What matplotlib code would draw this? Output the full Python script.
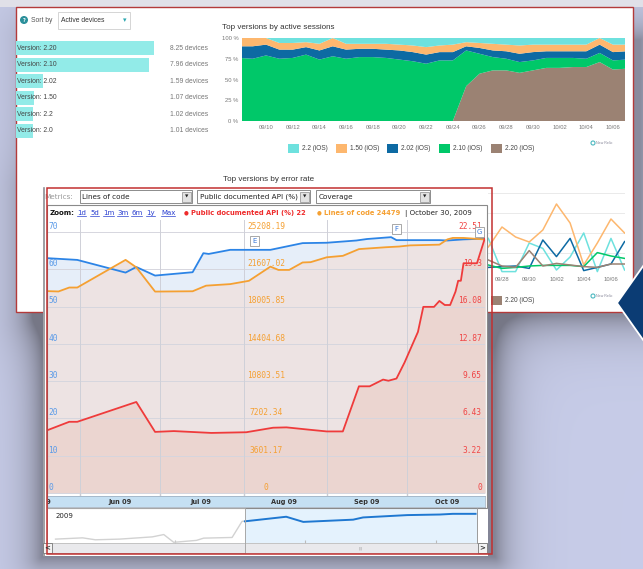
import numpy as np
import matplotlib
matplotlib.use("Agg")
import matplotlib.pyplot as plt
import matplotlib.transforms as mtransforms
from matplotlib.patches import Rectangle, Polygon, Circle

W, H = 643, 569
BACK_FONT = ['Liberation Sans', 'DejaVu Sans']
FRONT_FONT = ['DejaVu Sans']
MONO_FONT = ['DejaVu Sans Mono']

# ======================= DATA =======================
# --- device list (back dashboard) ---
device_labels = ['Version: 2.20', 'Version: 2.10', 'Version: 2.02',
                 'Version: 1.50', 'Version: 2.2', 'Version: 2.0']
device_counts = [8.25, 7.96, 1.59, 1.07, 1.02, 1.01]

# --- top versions by active sessions (% share, stacked) ---
session_dates = ['09/08', '09/09', '09/10', '09/11', '09/12', '09/13', '09/14',
                 '09/15', '09/16', '09/17', '09/18', '09/19', '09/20', '09/21',
                 '09/22', '09/23', '09/24', '09/25', '09/26', '09/27', '09/28',
                 '09/29', '09/30', '10/01', '10/02', '10/03', '10/04', '10/05',
                 '10/06', '10/07']
version_names = ['2.2 (iOS)', '1.50 (iOS)', '2.02 (iOS)', '2.10 (iOS)', '2.20 (iOS)']
version_colors = ['#6ee1de', '#fdb76e', '#0d6aa3', '#00c869', '#9b8273']
share_220 = [0, 0, 0, 0, 0, 0, 0, 0, 0, 0, 0, 0, 0, 0, 0, 0, 0, 42, 57, 61, 61, 58, 61, 64, 64, 65, 65, 71, 62, 63]
share_210 = [76, 75, 79, 75, 76, 80, 74, 78, 75, 77, 77, 76, 74, 72, 69, 73, 73, 43, 24, 16, 14, 13, 12, 12, 12, 11, 10, 11, 11, 11]
share_202 = [14, 15, 13, 11, 10, 9, 11, 12, 11, 10, 10, 10, 11, 11, 11, 10, 10, 5, 7, 8, 9, 10, 10, 8, 8, 8, 9, 10, 10, 10]
share_150 = [10, 10, 8, 8, 8, 6, 8, 10, 7, 6, 6, 7, 7, 8, 9, 8, 9, 5, 6, 8, 8, 10, 9, 8, 8, 8, 8, 8, 9, 8]
share_22 = [0, 0, 0, 6, 6, 5, 7, 0, 7, 7, 7, 7, 8, 9, 11, 9, 8, 5, 6, 7, 8, 9, 8, 8, 8, 8, 8, 0, 8, 8]

# --- top versions by error rate (visible part) ---
error_dates = ['09/27', '09/28', '09/29', '09/30', '10/01', '10/02', '10/03',
               '10/04', '10/05', '10/06', '10/07']
err_22 = [1.73, 0.07, 0.07, 1.5, 1.23, 0.15, 0.8, 2.0, 0.07, 1.73, 0.15]
err_150 = [1.3, 2.3, 1.8, 1.55, 2.15, 3.45, 2.5, 0.4, 1.5, 2.7, 2.0]
err_202 = [0.28, 0.32, 0.35, 0.23, 1.65, 0.82, 1.73, 0.12, 0.28, 0.45, 1.57]
err_210 = [0.4, 0.23, 0.28, 0.35, 0.38, 0.38, 0.38, 0.32, 1.02, 0.85, 0.73]
err_220 = [0.65, 0.35, 0.28, 1.12, 0.35, 0.48, 0.4, 0.32, 0.28, 0.45, 0.45]

# --- front annotated time line ---
metric_names = ['Lines of code', 'Public documented API (%)', 'Coverage']
coverage_dates = ['2009-05-19', '2009-05-31', '2009-06-18', '2009-06-22', '2009-06-29',
                  '2009-07-13', '2009-07-17', '2009-07-19', '2009-07-27', '2009-08-11',
                  '2009-08-23', '2009-09-01', '2009-09-12', '2009-09-16', '2009-09-25',
                  '2009-09-27', '2009-10-07', '2009-10-13', '2009-10-16', '2009-10-22',
                  '2009-10-30']
coverage_vals = [63.0, 62.5, 59.1, 60.6, 58.3, 59.2, 64.3, 64.1, 65.2, 65.2, 67.0,
                 67.1, 67.7, 68.1, 68.6, 67.8, 67.8, 67.8, 67.7, 68.0, 68.2]
loc_dates = ['2009-05-19', '2009-05-24', '2009-05-28', '2009-05-31', '2009-06-18',
             '2009-06-22', '2009-06-29', '2009-07-13', '2009-07-18', '2009-07-27',
             '2009-08-03', '2009-08-11', '2009-08-14', '2009-08-18', '2009-08-23',
             '2009-08-26', '2009-09-01', '2009-09-07', '2009-09-13', '2009-09-23',
             '2009-09-28', '2009-10-02', '2009-10-13', '2009-10-16', '2009-10-18',
             '2009-10-22', '2009-10-30']
loc_vals = [19500, 19460, 19840, 19840, 22510, 21790, 19450, 19480, 20020, 20170,
            20490, 21860, 21540, 21540, 22260, 22290, 22760, 22900, 23550, 23730,
            23800, 23910, 23980, 24490, 24630, 24630, 24479]
api_dates = ['2009-05-19', '2009-05-28', '2009-05-31', '2009-06-22', '2009-06-29',
             '2009-07-06', '2009-07-20', '2009-08-02', '2009-08-12', '2009-08-17',
             '2009-08-25', '2009-09-01', '2009-09-07', '2009-09-13', '2009-09-17',
             '2009-09-22', '2009-09-24', '2009-09-27', '2009-09-30', '2009-10-05',
             '2009-10-07', '2009-10-11', '2009-10-13', '2009-10-15', '2009-10-17',
             '2009-10-19', '2009-10-20', '2009-10-21', '2009-10-22', '2009-10-27',
             '2009-10-30']
api_vals = [5.34, 6.14, 6.14, 7.85, 5.27, 5.34, 5.18, 5.24, 5.63, 5.66, 5.47, 5.31,
            5.31, 9.20, 9.20, 9.78, 9.68, 9.87, 11.25, 13.89, 16.05, 16.05, 16.56,
            16.21, 16.21, 17.36, 18.30, 18.30, 19.81, 19.81, 22.0]

coverage_ticks = [0, 10, 20, 30, 40, 50, 60, 70]
loc_tick_labels = ['0', '3601.17', '7202.34', '10803.51', '14404.68', '18005.85', '21607.02', '25208.19']
api_tick_labels = ['0', '3.22', '6.43', '9.65', '12.87', '16.08', '19.3', '22.51']
month_starts = ['2009-06-01', '2009-07-01', '2009-08-01', '2009-09-01', '2009-10-01']
month_labels = ['May 09', 'Jun 09', 'Jul 09', 'Aug 09', 'Sep 09', 'Oct 09']
month_label_dates = ['2009-05-16', '2009-06-16', '2009-07-16', '2009-08-16', '2009-09-16', '2009-10-16']
flags = [('E', '2009-08-05', 0.924), ('F', '2009-09-27', 0.967), ('G', '2009-10-28', 0.958)]

# overview (range selector)
overview_dates = ['2009-01-07', '2009-01-26', '2009-02-04', '2009-02-21', '2009-03-16',
                  '2009-03-24', '2009-03-31', '2009-04-16', '2009-04-21', '2009-05-11',
                  '2009-05-18', '2009-05-20', '2009-06-18', '2009-06-30', '2009-08-04',
                  '2009-08-11', '2009-09-11', '2009-10-04', '2009-10-13', '2009-10-29']
overview_vals = [4, 5.3, 3.3, 4, 6.3, 8.7, 0.7, 2.7, 5, 5.7, 22.3, 22.3, 27, 21.7,
                 24, 26.3, 28.7, 29.3, 30, 30]
selection_start = '2009-05-20'

# ======================= FIGURE =======================
fig = plt.figure(figsize=(W / 100, H / 100), dpi=100)


def canvas(z):
    a = fig.add_axes([0, 0, 1, 1], zorder=z)
    a.set_xlim(0, W)
    a.set_ylim(H, 0)
    a.axis('off')
    return a


def px_axes(x0, y0, x1, y1, z, **kw):
    return fig.add_axes([x0 / W, 1 - y1 / H, (x1 - x0) / W, (y1 - y0) / H], zorder=z, **kw)


# ---------- background with soft shadows ----------
bg = canvas(0)
yy, xx = np.mgrid[0:H, 0:W] + 0.5


def rect_dist(x0, y0, x1, y1):
    dx = np.maximum(np.maximum(x0 - xx, 0), xx - x1)
    dy = np.maximum(np.maximum(y0 - yy, 0), yy - y1)
    return np.hypot(dx, dy)


shade = 0.6 * np.exp(-rect_dist(42, 192, 495, 557) / 17) + 0.55 * np.exp(-rect_dist(40, 40, 640, 316) / 20)
shade = np.clip(shade, 0, 0.72)
base = np.array([0.78, 0.80, 0.91])
dark = np.array([0.34, 0.34, 0.38])
img = base * (1 - shade[..., None]) + dark * shade[..., None]
img[:7] = (0.88, 0.88, 0.91)
bg.imshow(img, extent=(0, W, H, 0), aspect='auto', interpolation='bilinear', zorder=0)
bg.set_xlim(0, W)
bg.set_ylim(H, 0)

# back dashboard panel
bg.add_patch(Rectangle((16, 7), 617, 305, fc='white', ec='#b33a3a', lw=1.0, zorder=1))
bg.add_patch(Circle((24, 20), 3.3, color='#2a8f9a', zorder=2))
bg.text(24, 20.3, '?', fontsize=3.5, color='white', ha='center', va='center', weight='bold', zorder=3)
bg.text(31, 20.5, 'Sort by', fontsize=4.9, color='#555', ha='left', va='center', family=BACK_FONT, zorder=3)
bg.add_patch(Rectangle((58, 12), 72, 17, fc='white', ec='#cfcfcf', lw=0.6, zorder=2))
bg.text(61, 20.5, 'Active devices', fontsize=4.9, color='#333', ha='left', va='center', family=BACK_FONT, zorder=3)
bg.text(125, 20.5, '▾', fontsize=5, color='#2aa7b0', ha='center', va='center', zorder=3)
bg.text(222, 27, 'Top versions by active sessions', fontsize=5.8, color='#333', ha='left', va='center',
        family=BACK_FONT, zorder=3)
bg.text(223, 179.5, 'Top versions by error rate', fontsize=5.8, color='#333', ha='left', va='center',
        family=BACK_FONT, zorder=3)
legend_x = [288, 336, 387, 439, 491]
for ly in (148, 300.5):
    for lx, name, col in zip(legend_x, version_names, version_colors):
        bg.add_patch(Rectangle((lx, ly - 4.5), 11, 9, fc=col, ec='none', zorder=3))
        bg.text(lx + 14, ly, name, fontsize=4.7, color='#444', ha='left', va='center', family=BACK_FONT, zorder=3)
for ny in (143, 296):
    bg.add_patch(Circle((593, ny), 2.0, fc='none', ec='#4bb8c0', lw=0.8, zorder=3))
    bg.text(596.5, ny, 'New Relic', fontsize=2.6, color='#889', ha='left', va='center', family=BACK_FONT, zorder=3)

# ---------- back data axes ----------
ax_bar = px_axes(16, 40, 216, 139, 1)
ypos = np.arange(len(device_counts))
ax_bar.barh(ypos, device_counts, height=0.86, color='#92ebe8')
ax_bar.set_xlim(0, 200 / 16.7)
ax_bar.set_ylim(len(device_counts) - 0.5, -0.5)
ax_bar.axis('off')
tb = mtransforms.blended_transform_factory(ax_bar.transAxes, ax_bar.transData)
for i, (lab, val) in enumerate(zip(device_labels, device_counts)):
    ax_bar.text(0.006, i, lab, transform=tb, fontsize=4.9, color='#444', ha='left', va='center', family=BACK_FONT)
    ax_bar.text(0.77, i, f'{val:.2f} devices', transform=tb, fontsize=4.9, color='#777', ha='left',
                va='center', family=BACK_FONT)

ax_s = px_axes(242, 38, 625, 121, 1)
xs = np.arange(len(session_dates))
ax_s.stackplot(xs, share_220, share_210, share_202, share_150, share_22,
               colors=version_colors[::-1], lw=0)
ax_s.set_xlim(0.2, 28.9)
ax_s.set_ylim(0, 100)
ax_s.set_yticks([0, 25, 50, 75, 100])
ax_s.set_yticklabels(['0 %', '25 %', '50 %', '75 %', '100 %'])
ax_s.set_xticks(xs[2::2])
ax_s.set_xticklabels(session_dates[2::2])
ax_s.tick_params(length=0, labelsize=4.2, colors='#777', pad=2.6)
for t in ax_s.get_xticklabels() + ax_s.get_yticklabels():
    t.set_family(BACK_FONT)
for sp in ax_s.spines.values():
    sp.set_visible(False)

ax_e = px_axes(242, 190, 625, 273, 1)
xe = np.array([session_dates.index(d) for d in error_dates])
for vals, col in zip([err_22, err_150, err_202, err_210, err_220], version_colors):
    ax_e.plot(xe, vals, color=col, lw=1.1)
ax_e.set_xlim(0.92, 29.03)
ax_e.set_ylim(0, 4.15)
ax_e.set_yticks([1, 2, 3, 4])
ax_e.yaxis.grid(True, color='#e6e6e6', lw=0.6)
ax_e.set_axisbelow(True)
ax_e.set_xticks(xs[2::2])
ax_e.set_xticklabels(session_dates[2::2])
ax_e.tick_params(length=0, labelsize=4.2, colors='#777', pad=3, labelleft=False)
for t in ax_e.get_xticklabels():
    t.set_family(BACK_FONT)
for sp in ax_e.spines.values():
    sp.set_visible(False)

# ---------- front panel UI ----------
fr = canvas(2)
fr.add_patch(Rectangle((43, 188), 445, 368, fc='white', ec='none'))
fr.plot([44, 44], [188, 556], color='#8e8e94', lw=1.2)
fr.add_patch(Polygon([(617, 303), (646, 262), (690, 303), (646, 344)], fc='#0b3c74', ec='white', lw=1.3))
fr.text(44, 196.5, 'Metrics:', fontsize=5.2, color='#9a9a9a', ha='left', va='center', family=FRONT_FONT)
for (x0, x1), name in zip([(80, 192), (197, 310), (316, 430)], metric_names):
    fr.add_patch(Rectangle((x0, 190), x1 - x0, 13, fc='white', ec='#7a7a7a', lw=0.6))
    fr.add_patch(Rectangle((x1 - 10, 191.5), 8.5, 10, fc='#e2e2e2', ec='#8a8a8a', lw=0.5))
    fr.text(x1 - 5.75, 196.7, '▼', fontsize=3.2, color='#222', ha='center', va='center')
    fr.text(x0 + 2.5, 196.7, name, fontsize=5.2, color='#222', ha='left', va='center', family=FRONT_FONT)

fr.text(50, 213, 'Zoom:', fontsize=5.0, weight='bold', color='#111', ha='left', va='center', family=FRONT_FONT)
links = []
for lx, lab in zip([77, 90, 103, 117, 131, 146, 161], ['1d', '5d', '1m', '3m', '6m', '1y', 'Max']):
    links.append(fr.text(lx, 213, lab, fontsize=5.0, color='#2a3fd0', ha='left', va='center', family=FRONT_FONT))
fr.text(186, 212.6, '●', fontsize=4.0, color='#ee2b2b', ha='center', va='center')
fr.text(191, 213, f'Public documented API (%) {api_vals[-1]:.0f}', fontsize=4.9, weight='bold',
        color='#ee2b2b', ha='left', va='center', family=FRONT_FONT)
fr.text(319, 212.6, '●', fontsize=4.0, color='#f5a032', ha='center', va='center')
fr.text(324, 213, f'Lines of code {loc_vals[-1]}', fontsize=4.9, weight='bold',
        color='#f5a032', ha='left', va='center', family=FRONT_FONT)
fr.text(405, 213, '| October 30, 2009', fontsize=5.1, color='#222', ha='left', va='center', family=FRONT_FONT)

# ---------- front chart ----------
ax_m = px_axes(47, 220, 485, 496, 3)
ax_o = ax_m.twinx()
ax_r = ax_m.twinx()
cov_x = np.array(coverage_dates, dtype='datetime64[D]')
loc_x = np.array(loc_dates, dtype='datetime64[D]')
api_x = np.array(api_dates, dtype='datetime64[D]')

ax_m.fill_between(cov_x, 0, coverage_vals, color='#e6eef9', lw=0, zorder=1)
ax_m.fill_between(loc_x, 0, loc_vals, color='#ede3e3', lw=0, zorder=2, transform=ax_o.transData)
ax_m.fill_between(api_x, 0, api_vals, color='#ebd5d0', lw=0, zorder=3, transform=ax_r.transData)
ax_m.plot(cov_x, coverage_vals, color='#2c84e6', lw=1.3, zorder=6)
ax_m.plot(loc_x, loc_vals, color='#f5a032', lw=1.3, zorder=7, transform=ax_o.transData)
ax_m.plot(api_x, api_vals, color='#ef3b3b', lw=1.3, zorder=8, transform=ax_r.transData)

for v in coverage_ticks:
    ax_m.axhline(v, color='#d6d6de', lw=0.7, zorder=4)
month_x = np.array(month_starts, dtype='datetime64[D]')
for m in month_x:
    ax_m.axvline(m, color='#cfd0d8', lw=0.7, zorder=4)

ylo, yhi = -0.8, 73.2
k_loc = 25208.19 / 70
k_api = 22.51 / 70
xlim = (np.datetime64('2009-05-19T17:00'), np.datetime64('2009-10-30T00:00'))
ax_m.set_xlim(*xlim)
ax_m.set_ylim(ylo, yhi)
ax_o.set_ylim(ylo * k_loc, yhi * k_loc)
ax_r.set_ylim(ylo * k_api, yhi * k_api)
ax_o.axis('off')
ax_r.axis('off')
ax_m.set_yticks([])
ax_m.set_xticks(month_x)
ax_m.tick_params(axis='x', direction='in', length=3, width=0.8, color='#444', labelbottom=False)
for sp in ax_m.spines.values():
    sp.set_visible(False)

t_cov = mtransforms.offset_copy(mtransforms.blended_transform_factory(ax_m.transAxes, ax_m.transData),
                                fig=fig, y=2.3, units='points')
t_loc = mtransforms.offset_copy(mtransforms.blended_transform_factory(ax_m.transAxes, ax_o.transData),
                                fig=fig, y=2.3, units='points')
t_api = mtransforms.offset_copy(mtransforms.blended_transform_factory(ax_m.transAxes, ax_r.transData),
                                fig=fig, y=2.3, units='points')
for i, v in enumerate(coverage_ticks):
    ax_m.text(0.003, v, str(v), transform=t_cov, fontsize=5.7, color='#5b9be8', ha='left',
              va='baseline', family=MONO_FONT, zorder=9)
    ax_m.text(0.5, v * k_loc, loc_tick_labels[i], transform=t_loc, fontsize=5.7, color='#f5a032',
              ha='center', va='baseline', family=MONO_FONT, zorder=9)
    ax_m.text(0.993, v * k_api, api_tick_labels[i], transform=t_api, fontsize=5.7, color='#f04545',
              ha='right', va='baseline', family=MONO_FONT, zorder=9)

tflag = mtransforms.blended_transform_factory(ax_m.transData, ax_m.transAxes)
for lab, d, fy in flags:
    ax_m.text(np.datetime64(d), fy, lab, transform=tflag, fontsize=5.0, color='#3a78d8', ha='center',
              va='center', family=FRONT_FONT, zorder=10, clip_on=True,
              bbox=dict(boxstyle='square,pad=0.3', fc='white', ec='#9a9a9a', lw=0.6))

# date band
ax_band = fig.add_axes([47 / W, 1 - 507 / H, 438 / W, 11 / H], zorder=3, sharex=ax_m)
ax_band.set_facecolor('#c5e0f3')
ax_band.set_yticks([])
ax_band.tick_params(axis='x', length=0, labelbottom=False)
for sp in ax_band.spines.values():
    sp.set_color('#9ab')
    sp.set_linewidth(0.5)
tband = mtransforms.blended_transform_factory(ax_band.transData, ax_band.transAxes)
for lab, d in zip(month_labels, month_label_dates):
    ax_band.text(np.datetime64(d), 0.45, lab, transform=tband, fontsize=4.8, weight='bold',
                 color='#333', ha='center', va='center', family=FRONT_FONT, clip_on=True)

# overview
ax_ov = px_axes(47, 508, 477, 543, 3)
ov_x = np.array(overview_dates, dtype='datetime64[D]')
ov_v = np.array(overview_vals)
sel = np.datetime64(selection_start)
ax_ov.axvspan(sel, np.datetime64('2009-10-30'), color='#e4f2fd', lw=0)
ax_ov.plot(ov_x[ov_x <= sel], ov_v[ov_x <= sel], color='#d2d2d2', lw=1.0)
ax_ov.plot(ov_x[ov_x >= sel], ov_v[ov_x >= sel], color='#1f78d1', lw=1.4)
ax_ov.set_xlim(np.datetime64('2009-01-01'), np.datetime64('2009-10-30'))
ax_ov.set_ylim(0, 36)
ax_ov.set_yticks([])
ax_ov.set_xticks(np.array(['2009-04-01', '2009-07-01', '2009-10-01'], dtype='datetime64[D]'))
ax_ov.tick_params(axis='x', direction='in', length=2, color='#bbb', labelbottom=False)
for sp in ax_ov.spines.values():
    sp.set_visible(False)
ax_ov.text(0.02, 0.77, '2009', transform=ax_ov.transAxes, fontsize=5.0, color='#222', ha='left',
           va='center', family=FRONT_FONT)

# ---------- top frame layer ----------
tp = canvas(4)
tp.add_patch(Rectangle((47, 205), 440, 303, fc='none', ec='#8a8a8a', lw=0.8))
tp.add_patch(Rectangle((47, 543), 440, 10, fc='#e9e9ec', ec='#b0b0b0', lw=0.5))
tp.add_patch(Rectangle((47, 508), 198, 45, fc='none', ec='#a8a8a8', lw=0.7))
tp.plot([477, 477], [508, 543], color='#9a9a9a', lw=0.7)
tp.add_patch(Rectangle((43, 543), 9, 10, fc='#f4f4f4', ec='#777', lw=0.6))
tp.text(47.5, 548.3, '<', fontsize=5, weight='bold', color='#333', ha='center', va='center')
tp.add_patch(Rectangle((478, 543), 9, 10, fc='#f4f4f4', ec='#777', lw=0.6))
tp.text(482.5, 548.3, '>', fontsize=5, weight='bold', color='#333', ha='center', va='center')
tp.text(361, 548, '|||', fontsize=3, color='#999', ha='center', va='center')
tp.add_patch(Rectangle((47, 188), 445, 366, fc='none', ec='#c23030', lw=1.1))

# underline zoom links
fig.canvas.draw()
rend = fig.canvas.get_renderer()
for t in links:
    bb = t.get_window_extent(rend).transformed(fr.transData.inverted())
    yb = max(bb.y0, bb.y1) - 0.3
    fr.plot([bb.x0, bb.x1], [yb, yb], color='#2a3fd0', lw=0.5)

fig.savefig('out.png', dpi=100)
